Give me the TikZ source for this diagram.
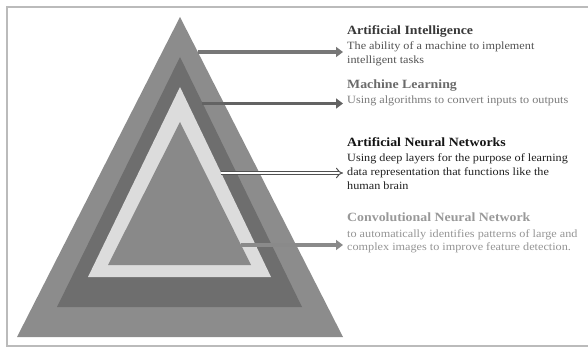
\documentclass[tikz,border=0pt]{standalone}
\usepackage{fontspec}
\setmainfont{Liberation Serif}[FakeStretch=1.1]
\usetikzlibrary{arrows.meta,calc}
\definecolor{frameg}{HTML}{BBBBBB}
\definecolor{outerg}{HTML}{8C8C8C}
\definecolor{bandg}{HTML}{6E6E6E}
\definecolor{lightg}{HTML}{DCDCDC}
\definecolor{innerg}{HTML}{898989}
\definecolor{arrowa}{HTML}{777777}
\definecolor{arrowb}{HTML}{636363}
\definecolor{arrowc}{HTML}{505050}
\definecolor{arrowd}{HTML}{8A8A8A}
\tikzset{
  head/.style={anchor=base west, inner sep=0pt, font=\fontsize{12.6}{14}\selectfont\bfseries},
  desc/.style={anchor=base west, inner sep=0pt, font=\fontsize{11.1}{14}\selectfont},
  solidarrow/.style={line width=3.6pt, -{Triangle[width=10pt,length=7pt]}},
  hollowarrow/.style={line width=1pt, double=white, double distance=2.6pt, -{Implies}},
}
\begin{document}
\begin{tikzpicture}[x=1pt,y=-1pt]
\useasboundingbox (0,0) rectangle (588,347);
% frame, open on the right
\draw[frameg, line width=1.2pt] (588,7) -- (7,7) -- (7,346) -- (588,346);

% nested triangles
\coordinate (oA) at (180,17);  \coordinate (oL) at (17,337);  \coordinate (oR) at (343,337);
\coordinate (bA) at (180,57);  \coordinate (bL) at (57,307);  \coordinate (bR) at (302,307);
\coordinate (lA) at (180,87);  \coordinate (lL) at (88,277);  \coordinate (lR) at (271,277);
\coordinate (iA) at (180,122); \coordinate (iL) at (108,265); \coordinate (iR) at (251,265);
\fill[outerg] (oA) -- (oR) -- (oL) -- cycle;
\fill[bandg]  (bA) -- (bR) -- (bL) -- cycle;
\fill[lightg] (lA) -- (lR) -- (lL) -- cycle;
\fill[innerg] (iA) -- (iR) -- (iL) -- cycle;

% arrow start points on the triangle edges and their ends
\coordinate (s1) at ($(oA)!0.1094!(oR)$);
\coordinate (s2) at ($(bA)!0.184!(bR)$);
\coordinate (s3) at ($(lA)!0.4526!(lR)$);
\coordinate (s4) at ($(iA)!0.86!(iR)$);
\coordinate (e1) at (343,52);
\coordinate (e2) at (343,103.5);
\coordinate (e3) at (343,173);
\coordinate (e4) at (343,245);

\draw[solidarrow, arrowa] (s1 |- e1) -- (e1);
\draw[solidarrow, arrowb] (s2 |- e2) -- (e2);
\draw[hollowarrow, arrowc] (s3 |- e3) -- (e3);
\draw[solidarrow, arrowd] (s4 |- e4) -- (e4);

% labels
\node[head, text=black!78] (h1) at (347,34.3) {Artificial Intelligence};
\node[desc, text=black!68] (d1a) at (347,49.3) {The ability of a machine to implement};
\node[desc, text=black!68] (d1b) at (347,63.3) {intelligent tasks};

\node[head, text=black!58] (h2) at (347,89) {Machine Learning};
\node[desc, text=black!52] (d2a) at (347,103.3) {Using algorithms to convert inputs to outputs};

\node[head, text=black!92] (h3) at (347,146.7) {Artificial Neural Networks};
\node[desc, text=black!88] (d3a) at (347,161.7) {Using deep layers for the purpose of learning};
\node[desc, text=black!88] (d3b) at (347,176) {data representation that functions like the};
\node[desc, text=black!88] (d3c) at (347,190) {human brain};

\node[head, text=black!40] (h4) at (347,221.7) {Convolutional Neural Network};
\node[desc, text=black!42] (d4a) at (347,237.3) {to automatically identifies patterns of large and};
\node[desc, text=black!42] (d4b) at (347,250.7) {complex images to improve feature detection.};
\end{tikzpicture}
\end{document}
